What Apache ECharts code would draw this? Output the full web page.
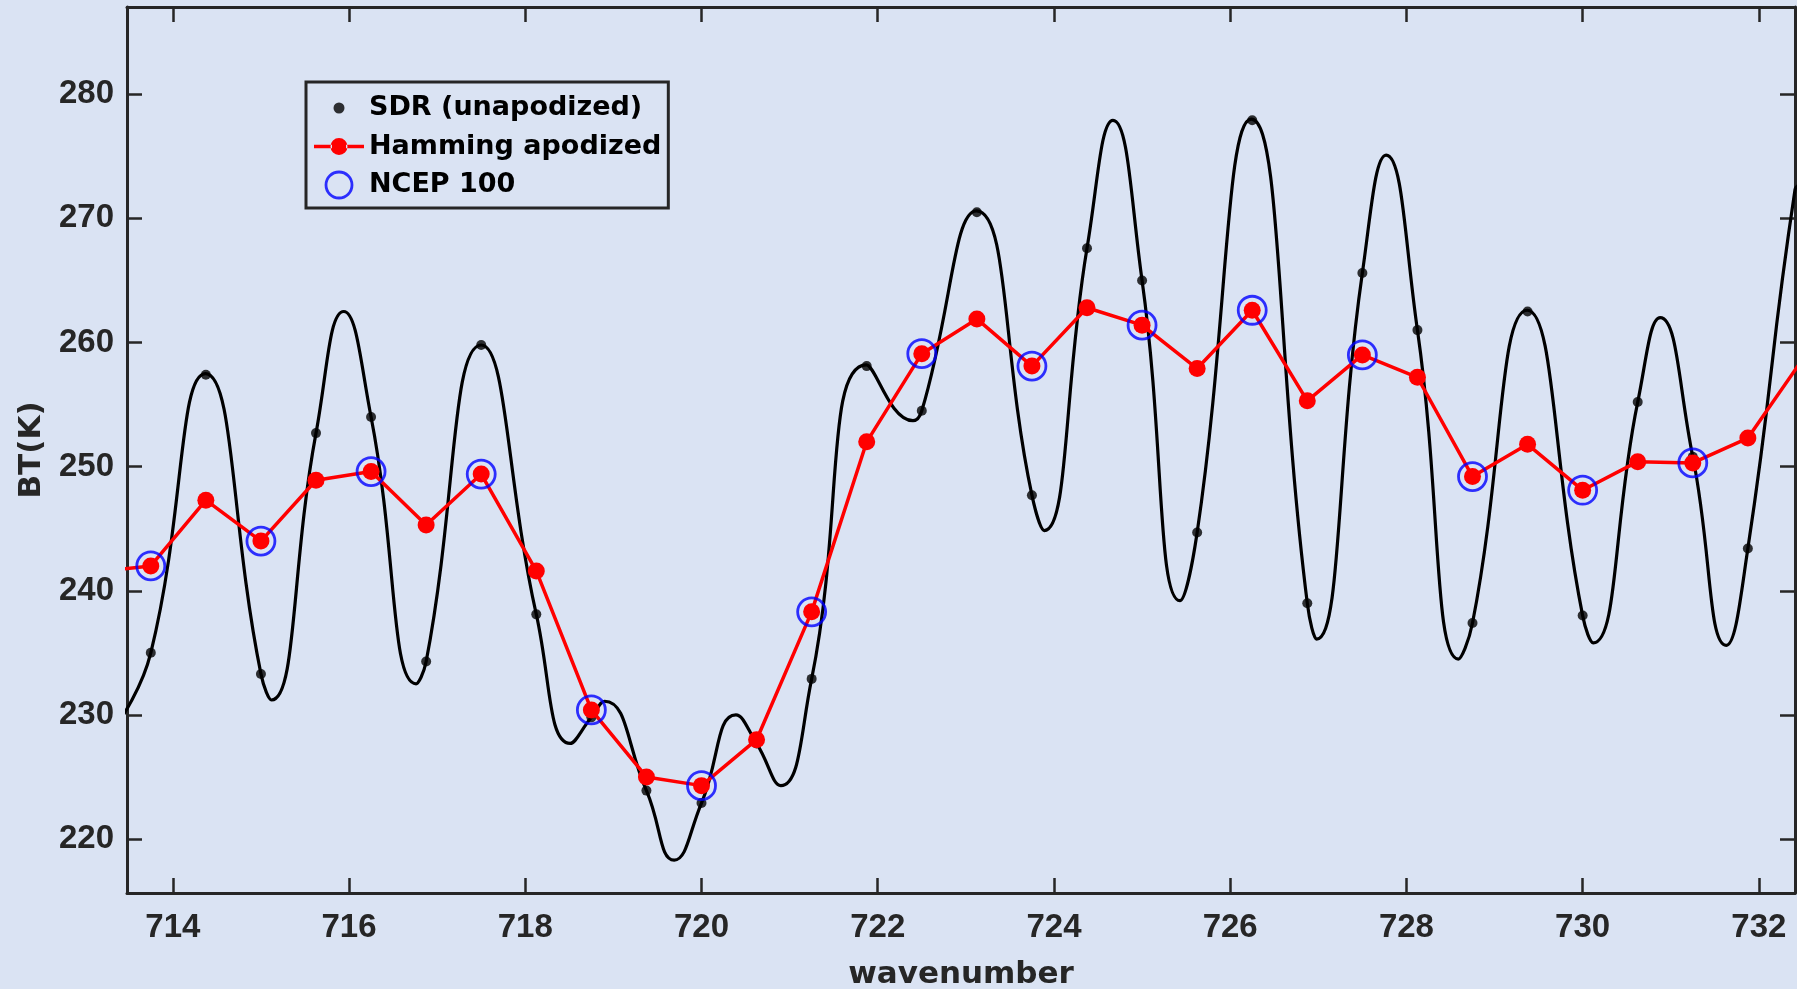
<!DOCTYPE html>
<html>
<head>
<meta charset="utf-8">
<title>BT spectrum</title>
<script src="https://cdn.jsdelivr.net/npm/echarts@6.0.0/dist/echarts.min.js"></script>
<style>
    html, body { margin: 0; padding: 0; background: #DAE3F3; }
    #chart { width: 1797px; height: 989px; }
</style>
</head>
<body>
<div id="chart"></div>
<script>
// axis ranges and tick labels
var xMin = 713.48, xMax = 732.41;
var yMin = 215.65, yMax = 287.03;
var xTicks = [714, 716, 718, 720, 722, 724, 726, 728, 730, 732];
var yTicks = [220, 230, 240, 250, 260, 270, 280];

// SDR (unapodized) channel values
var sdrWave = [713.75, 714.375, 715.0, 715.625, 716.25, 716.875, 717.5, 718.125, 718.75, 719.375,
    720.0, 720.625, 721.25, 721.875, 722.5, 723.125, 723.75, 724.375, 725.0, 725.625,
    726.25, 726.875, 727.5, 728.125, 728.75, 729.375, 730.0, 730.625, 731.25, 731.875];
var sdrBT = [235.0, 257.4, 233.3, 252.7, 254.0, 234.3, 259.8, 238.1, 229.8, 223.9,
    222.9, 227.7, 232.9, 258.1, 254.5, 270.5, 247.7, 267.6, 265.0, 244.7,
    277.9, 239.0, 265.6, 261.0, 237.4, 262.5, 238.0, 255.2, 250.8, 243.4];

// unapodized spectrum
var curveWave = [713.40, 713.75, 714.37, 715.0, 715.12, 715.625, 715.94, 716.25, 716.76, 716.875,
    717.5, 718.125, 718.51, 718.75, 718.90, 719.375, 719.69, 720.0, 720.39, 720.625,
    720.90, 721.25, 721.87, 722.40, 722.5, 723.12, 723.75, 723.89, 724.375, 724.67,
    725.0, 725.43, 725.625, 726.24, 726.875, 726.98, 727.5, 727.77, 728.125, 728.59,
    728.75, 729.37, 730.0, 730.12, 730.625, 730.88, 731.25, 731.63, 731.875, 732.41, 732.50];
var curveBT = [229.6, 235.0, 257.5, 233.3, 231.2, 252.7, 262.5, 254.0, 232.5, 234.3,
    259.8, 238.1, 227.7, 229.8, 231.1, 223.9, 218.3, 222.9, 230.0, 227.7,
    224.3, 232.9, 258.2, 253.7, 254.5, 270.6, 247.7, 244.85, 267.6, 277.9,
    265.0, 239.2, 244.7, 278.0, 239.0, 236.1, 265.6, 275.1, 261.0, 234.5,
    237.4, 262.6, 238.0, 235.8, 255.2, 262.0, 250.8, 235.6, 243.4, 272.3, 272.8];

// Hamming apodized
var hamWave = [713.125, 713.75, 714.375, 715.0, 715.625, 716.25, 716.875, 717.5, 718.125, 718.75,
    719.375, 720.0, 720.625, 721.25, 721.875, 722.5, 723.125, 723.75, 724.375, 725.0,
    725.625, 726.25, 726.875, 727.5, 728.125, 728.75, 729.375, 730.0, 730.625, 731.25,
    731.875, 732.5];
var hamBT = [241.5, 242.0, 247.3, 244.0, 248.9, 249.6, 245.3, 249.4, 241.6, 230.4,
    225.0, 224.3, 228.0, 238.3, 252.0, 259.1, 261.9, 258.1, 262.8, 261.4,
    257.9, 262.6, 255.3, 259.0, 257.2, 249.2, 251.8, 248.1, 250.4, 250.3,
    252.3, 258.7];

// NCEP 100 channel subset
var ncepWave = [713.75, 715.0, 716.25, 717.5, 718.75, 720.0, 721.25, 722.5, 723.75, 725.0,
    726.25, 727.5, 728.75, 730.0, 731.25];
var ncepBT = [242.0, 244.0, 249.6, 249.4, 230.4, 224.3, 238.3, 259.1, 258.1, 261.4,
    262.6, 259.0, 249.2, 248.1, 250.3];

function pairs(xs, ys) {
    var out = [];
    for (var i = 0; i < xs.length; i++) {
        out.push([xs[i], ys[i]]);
    }
    return out;
}

var axisColor = '#262626';
var bg = '#DAE3F3';
var tickFont = {
    fontSize: 33,
    fontWeight: 'bold',
    fontFamily: 'Liberation Sans',
    color: axisColor
};
var nameFont = {
    fontSize: 31,
    fontWeight: 'bold',
    fontFamily: 'DejaVu Sans',
    color: axisColor
};

var chart = echarts.init(document.getElementById('chart'));
var option = {
    backgroundColor: bg,
    animation: false,
    grid: {
        left: 127,
        right: 2,
        top: 7,
        bottom: 96,
        containLabel: false,
        outerBoundsMode: 'none'
    },
    legend: {
        orient: 'vertical',
        left: 306,
        top: 82,
        padding: [11, 7, 8, 8],
        itemGap: 8.5,
        itemWidth: 50,
        itemHeight: 26,
        itemTextGap: 6,
        selectedMode: false,
        borderColor: axisColor,
        borderWidth: 3,
        backgroundColor: bg,
        textStyle: {
            fontSize: 27,
            fontWeight: 'bold',
            fontFamily: 'DejaVu Sans',
            color: '#000',
            lineHeight: 30
        },
        data: [{
            name: 'SDR (unapodized)',
            icon: 'path://M0,0M50,26M19.5,13a5.5,5.5 0 1,0 11,0a5.5,5.5 0 1,0 -11,0Z',
            itemStyle: { color: '#000', borderWidth: 0 }
        }, {
            name: 'Hamming apodized',
            icon: 'path://M0,0M50,26M0,11.3L18,11.3L18,14.7L0,14.7Z M32,11.3L50,11.3L50,14.7L32,14.7Z M16.5,13a8.5,8.5 0 1,0 17,0a8.5,8.5 0 1,0 -17,0Z',
            itemStyle: { color: '#ff0000', borderWidth: 0 }
        }, {
            name: 'NCEP 100',
            icon: 'circle',
            itemStyle: { color: 'rgba(0,0,0,0)', borderColor: '#0000ff', borderWidth: 2.8 }
        }]
    },
    xAxis: [{
        type: 'value',
        position: 'bottom',
        min: xMin,
        max: xMax,
        name: 'wavenumber',
        nameLocation: 'middle',
        nameGap: 66,
        nameTextStyle: nameFont,
        axisLine: { lineStyle: { color: axisColor, width: 3 } },
        axisTick: { inside: true, length: 15, customValues: xTicks, lineStyle: { color: axisColor, width: 2.5 } },
        axisLabel: Object.assign({ customValues: xTicks, margin: 18 }, tickFont),
        splitLine: { show: false }
    }, {
        type: 'value',
        position: 'top',
        min: xMin,
        max: xMax,
        axisLine: { lineStyle: { color: axisColor, width: 3 } },
        axisTick: { inside: true, length: 15, customValues: xTicks, lineStyle: { color: axisColor, width: 2.5 } },
        axisLabel: { show: false },
        splitLine: { show: false }
    }],
    yAxis: [{
        type: 'value',
        position: 'left',
        min: yMin,
        max: yMax,
        name: 'BT(K)',
        nameLocation: 'middle',
        nameGap: 80,
        nameTextStyle: nameFont,
        axisLine: { show: true, lineStyle: { color: axisColor, width: 3 } },
        axisTick: { show: true, inside: true, length: 15, customValues: yTicks, lineStyle: { color: axisColor, width: 2.5 } },
        axisLabel: Object.assign({ customValues: yTicks, margin: 13 }, tickFont),
        splitLine: { show: false }
    }, {
        type: 'value',
        position: 'right',
        min: yMin,
        max: yMax,
        axisLine: { show: true, lineStyle: { color: axisColor, width: 3 } },
        axisTick: { show: true, inside: true, length: 15, customValues: yTicks, lineStyle: { color: axisColor, width: 2.5 } },
        axisLabel: { show: false },
        splitLine: { show: false }
    }],
    series: [{
        name: 'SDR curve',
        type: 'line',
        data: pairs(curveWave, curveBT),
        smooth: 0.5,
        symbol: 'none',
        clip: true,
        lineStyle: { color: '#000', width: 3.2 },
        z: 1
    }, {
        name: 'SDR (unapodized)',
        type: 'scatter',
        data: pairs(sdrWave, sdrBT),
        symbol: 'circle',
        symbolSize: 10,
        itemStyle: { color: '#000' },
        z: 2
    }, {
        name: 'Hamming apodized',
        type: 'line',
        data: pairs(hamWave, hamBT),
        symbol: 'circle',
        symbolSize: 17,
        showAllSymbol: true,
        clip: true,
        itemStyle: { color: '#ff0000', borderWidth: 0 },
        lineStyle: { color: '#ff0000', width: 3.5 },
        z: 3
    }, {
        name: 'NCEP 100',
        type: 'scatter',
        data: pairs(ncepWave, ncepBT),
        symbol: 'circle',
        symbolSize: 28,
        itemStyle: { color: 'rgba(0,0,0,0)', borderColor: '#0000ff', borderWidth: 2.8 },
        z: 4
    }]
};
chart.setOption(option);
</script>
</body>
</html>
